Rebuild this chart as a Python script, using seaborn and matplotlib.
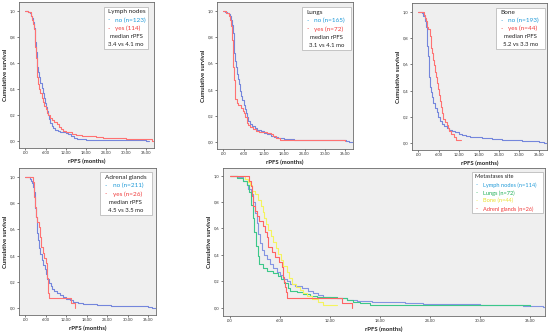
import matplotlib
matplotlib.use("Agg")
import matplotlib.pyplot as plt
import seaborn as sns
import pandas as pd
from matplotlib.patches import Rectangle

sns.set_theme(style="white")
plt.rcParams['font.family'] = ['Lato', 'DejaVu Sans']

# ---------------- data (time in months, cumulative survival) ----------------
xticks = [0, 6, 12, 18, 24, 30, 36]
xtick_labels = [".00", "6.00", "12.00", "18.00", "24.00", "30.00", "36.00"]
yticks = [0.0, 0.2, 0.4, 0.6, 0.8, 1.0]
ytick_labels = ["0,0", "0,2", "0,4", "0,6", "0,8", "1,0"]

# Lymph nodes panel
lymph_no = [(0, 1.0), (0.8, 0.99), (1.3, 0.98), (1.8, 0.96), (2.1, 0.94), (2.4, 0.91), (2.6, 0.87),
            (2.8, 0.82), (3.0, 0.76), (3.2, 0.68), (3.4, 0.62), (3.6, 0.57), (3.9, 0.53), (4.2, 0.49),
            (4.5, 0.45), (4.8, 0.41), (5.1, 0.37), (5.4, 0.33), (5.7, 0.29), (6.0, 0.26), (6.3, 0.23),
            (6.6, 0.20), (7.0, 0.17), (7.4, 0.14), (7.8, 0.12), (8.3, 0.10), (8.9, 0.09), (9.6, 0.08),
            (10.4, 0.075), (11.2, 0.07), (12.0, 0.065), (12.8, 0.055), (13.6, 0.045), (14.5, 0.03),
            (15.3, 0.02), (16.5, 0.015), (18.0, 0.01), (36.0, 0.005), (36.8, 0.005)]
lymph_yes = [(0, 1.0), (0.8, 0.99), (1.6, 0.96), (2.0, 0.93), (2.2, 0.9), (2.5, 0.86), (2.8, 0.8),
             (3.0, 0.72), (3.2, 0.64), (3.4, 0.56), (3.6, 0.49), (3.8, 0.44), (4.1, 0.4), (4.4, 0.37),
             (4.8, 0.33), (5.2, 0.3), (5.6, 0.27), (6.0, 0.245), (6.4, 0.22), (6.8, 0.2), (7.2, 0.18),
             (7.8, 0.165), (8.6, 0.15), (9.3, 0.13), (10.0, 0.11), (10.6, 0.095), (11.2, 0.08),
             (12.0, 0.075), (12.8, 0.07), (14.0, 0.06), (15.2, 0.05), (17.0, 0.045), (19.2, 0.04),
             (21.0, 0.035), (23.2, 0.03), (25.5, 0.027), (27.2, 0.025), (30.0, 0.02), (35.2, 0.015),
             (37.6, 0.005), (38.5, 0.005)]

# Lungs panel
lungs_no = [(0, 1.0), (0.5, 0.99), (1.0, 0.985), (1.5, 0.975), (2.0, 0.96), (2.3, 0.93), (2.6, 0.89),
            (2.8, 0.83), (3.0, 0.75), (3.2, 0.68), (3.4, 0.62), (3.6, 0.57), (3.9, 0.52), (4.2, 0.48),
            (4.6, 0.44), (5.0, 0.39), (5.3, 0.35), (5.6, 0.32), (6.0, 0.28), (6.3, 0.25), (6.6, 0.22),
            (7.0, 0.19), (7.4, 0.16), (7.9, 0.14), (8.5, 0.125), (9.2, 0.11), (10.0, 0.095), (11.0, 0.085),
            (12.0, 0.075), (13.0, 0.065), (14.0, 0.05), (15.0, 0.04), (16.2, 0.03), (18.0, 0.025),
            (21.0, 0.02), (26.0, 0.017), (30.0, 0.015), (36.2, 0.01), (37.0, 0.005), (38.5, 0.005)]
lungs_yes = [(0, 1.0), (0.8, 0.985), (1.6, 0.96), (2.0, 0.93), (2.3, 0.88), (2.5, 0.78), (2.7, 0.68),
             (2.9, 0.57), (3.1, 0.47), (3.3, 0.39), (3.5, 0.33), (3.9, 0.3), (4.4, 0.28), (5.2, 0.26),
             (5.8, 0.24), (6.1, 0.22), (6.5, 0.19), (6.9, 0.15), (7.2, 0.13), (8.0, 0.12), (8.8, 0.1),
             (9.6, 0.09), (10.4, 0.08), (12.8, 0.07), (14.0, 0.06), (14.8, 0.045), (15.6, 0.035),
             (16.8, 0.02), (36.0, 0.014)]

# Bone panel
bone_no = [(0, 1.0), (0.6, 0.995), (1.0, 0.99), (1.5, 0.97), (2.0, 0.93), (2.3, 0.88), (2.5, 0.82),
           (2.7, 0.74), (2.9, 0.66), (3.1, 0.58), (3.3, 0.5), (3.5, 0.43), (3.8, 0.39), (4.1, 0.35),
           (4.5, 0.31), (5.0, 0.27), (5.4, 0.24), (5.9, 0.2), (6.4, 0.17), (7.0, 0.15), (7.7, 0.13),
           (8.4, 0.12), (9.2, 0.105), (10.0, 0.095), (11.0, 0.085), (12.0, 0.075), (13.0, 0.065),
           (14.3, 0.058), (15.5, 0.05), (17.3, 0.045), (19.0, 0.038), (22.0, 0.032), (25.0, 0.028),
           (28.0, 0.025), (31.0, 0.02), (34.0, 0.017), (36.0, 0.01), (37.5, 0.005), (38.5, 0.005)]
bone_yes = [(0, 1.0), (1.8, 0.977), (2.1, 0.955), (2.4, 0.932), (2.6, 0.886), (3.0, 0.864), (3.4, 0.818),
            (3.7, 0.773), (3.9, 0.727), (4.1, 0.682), (4.3, 0.636), (4.6, 0.591), (4.9, 0.545),
            (5.2, 0.5), (5.5, 0.455), (5.8, 0.409), (6.1, 0.364), (6.4, 0.318), (6.8, 0.273),
            (7.1, 0.227), (7.4, 0.182), (7.9, 0.159), (8.4, 0.136), (8.8, 0.114), (9.2, 0.091),
            (9.8, 0.068), (10.5, 0.045), (11.2, 0.023), (12.8, 0.023)]

# Adrenal glands panel
adrenal_no = [(0, 1.0), (0.7, 0.995), (1.2, 0.985), (1.6, 0.97), (2.0, 0.95), (2.3, 0.92), (2.5, 0.88),
              (2.7, 0.82), (2.9, 0.76), (3.1, 0.69), (3.3, 0.62), (3.5, 0.57), (3.8, 0.52), (4.1, 0.46),
              (4.4, 0.41), (4.8, 0.37), (5.2, 0.33), (5.6, 0.3), (6.0, 0.26), (6.4, 0.22), (6.9, 0.19),
              (7.4, 0.17), (7.9, 0.15), (8.4, 0.135), (9.2, 0.12), (10.0, 0.105), (11.0, 0.09),
              (12.0, 0.075), (13.0, 0.06), (14.0, 0.05), (15.3, 0.04), (16.8, 0.035), (18.2, 0.03),
              (21.0, 0.025), (25.0, 0.02), (30.0, 0.018), (33.0, 0.015), (36.0, 0.01), (37.0, 0.005),
              (38.5, 0.005)]
adrenal_yes = [(0, 1.0), (2.3, 0.962), (2.5, 0.923), (2.6, 0.846), (2.8, 0.769), (3.0, 0.731),
               (3.2, 0.692), (3.5, 0.654), (4.0, 0.615), (4.2, 0.577), (4.4, 0.538), (4.5, 0.5),
               (4.6, 0.462), (5.0, 0.423), (5.4, 0.385), (5.9, 0.346), (6.2, 0.308), (6.3, 0.269),
               (6.4, 0.231), (6.5, 0.192), (6.6, 0.154), (6.7, 0.115), (6.8, 0.077), (13.4, 0.038),
               (14.6, 0.0)]

# legend texts
panel_titles = ["Lymph nodes", "Lungs", "Bone", "Adrenal glands"]
no_labels = ["no (n=123)", "no (n=165)", "no (n=193)", "no (n=211)"]
yes_labels = ["yes (114)", "yes (n=72)", "yes (n=44)", "yes (n=26)"]
median_texts = ["3.4 vs 4.1 mo", "3.1 vs 4.1 mo", "5.2 vs 3.3 mo", "4.5 vs 3.5 mo"]
site_labels = ["Lymph nodes (n=114)", "Lungs (n=72)", "Bone (n=44)", "Adrenl glands (n=26)"]

# ---------------- styling ----------------
BG = "#efefef"
LINE_BLUE = "#7486dc"
LINE_RED = "#ff7272"
TXT_BLUE = "#1f9ad8"
TXT_RED = "#f03a3a"
SITE_LINE = ["#8494e2", "#3cc889", "#f4f45e", "#ff6464"]
SITE_TXT = ["#1f9ad8", "#1fae55", "#e8e02a", "#f03a3a"]

W, H = 550, 333
fig = plt.figure(figsize=(5.5, 3.33), dpi=100)
fig.patch.set_facecolor("white")


def add_ax(l, r, t, b):
    return fig.add_axes([l / W, 1 - b / H, (r - l) / W, (b - t) / H])


def km(ax, pts, color):
    df = pd.DataFrame(pts, columns=["t", "s"])
    sns.lineplot(data=df, x="t", y="s", ax=ax, color=color, lw=0.8,
                 drawstyle="steps-post", estimator=None, sort=False, legend=False)


def style(ax, xlim, ylim):
    ax.set_facecolor(BG)
    ax.set_xlim(*xlim)
    ax.set_ylim(*ylim)
    ax.set_xticks(xticks)
    ax.set_xticklabels(xtick_labels)
    ax.set_yticks(yticks)
    ax.set_yticklabels(ytick_labels)
    ax.tick_params(axis="both", which="major", bottom=True, left=True, length=1.5, width=0.5,
                   pad=1.0, labelsize=3.0, color="#444444", labelcolor="#333333", direction="out")
    for sp in ax.spines.values():
        sp.set_color("#6a6a6a")
        sp.set_linewidth(0.6)
    ax.set_xlabel("rPFS (months)", fontsize=4.3, fontweight="bold", labelpad=2.5, color="#222222")
    ax.set_ylabel("Cumulative survival", fontsize=4.3, fontweight="bold", labelpad=1.5, color="#222222")


def legend_box(ax, x0, x1, y0, y1, title, rows, extra, fs=4.6, dash_x=0.09, text_x=0.25):
    ax.add_patch(Rectangle((x0, y0), x1 - x0, y1 - y0, transform=ax.transAxes,
                           facecolor="white", edgecolor="#b0b0b0", lw=0.5, zorder=5))
    h = y1 - y0
    w = x1 - x0
    n = 1 + len(rows) + len(extra)
    step = h / (n + 0.1)
    y = y1 - step * 0.6
    ax.text(x0 + dash_x * w, y, title, transform=ax.transAxes, fontsize=fs, color="#222222",
            va="center", ha="left", zorder=6)
    for label, col in rows:
        y -= step
        ax.text(x0 + dash_x * w, y, "-", transform=ax.transAxes, fontsize=fs, color=col,
                va="center", ha="left", zorder=6)
        ax.text(x0 + text_x * w, y, label, transform=ax.transAxes, fontsize=fs, color=col,
                va="center", ha="left", zorder=6)
    for line in extra:
        y -= step
        ax.text(x0 + 0.5 * w, y, line, transform=ax.transAxes, fontsize=fs * 0.95, color="#222222",
                va="center", ha="center", zorder=6)


panels = [
    ((19, 154, 2, 148), lymph_no, lymph_yes, (0.63, 0.955, 0.678, 0.966)),
    ((217, 353, 2, 149), lungs_no, lungs_yes, (0.625, 0.985, 0.675, 0.966)),
    ((412, 547, 3, 150), bone_no, bone_yes, (0.62, 0.985, 0.69, 0.966)),
    ((19, 156, 168, 315), adrenal_no, adrenal_yes, (0.59, 0.97, 0.68, 0.973)),
]

for i, (pos, no_pts, yes_pts, box) in enumerate(panels):
    ax = add_ax(*pos)
    km(ax, no_pts, LINE_BLUE)
    km(ax, yes_pts, LINE_RED)
    style(ax, (-1.9, 38.3), (-0.05, 1.065))
    legend_box(ax, *box, panel_titles[i],
               [(no_labels[i], TXT_BLUE), (yes_labels[i], TXT_RED)],
               ["median rPFS", median_texts[i]])

# Combined panel: metastases site
ax5 = add_ax(223, 545, 168, 316)
for pts, col in zip([lymph_yes, lungs_yes, bone_yes, adrenal_yes], SITE_LINE):
    km(ax5, pts, col)
style(ax5, (-0.85, 37.8), (-0.063, 1.058))
legend_box(ax5, 0.773, 0.994, 0.696, 0.973, "Metastases site",
           list(zip(site_labels, SITE_TXT)), [], fs=4.1, dash_x=0.05, text_x=0.15)

fig.savefig("out.png", dpi=100, facecolor="white")
